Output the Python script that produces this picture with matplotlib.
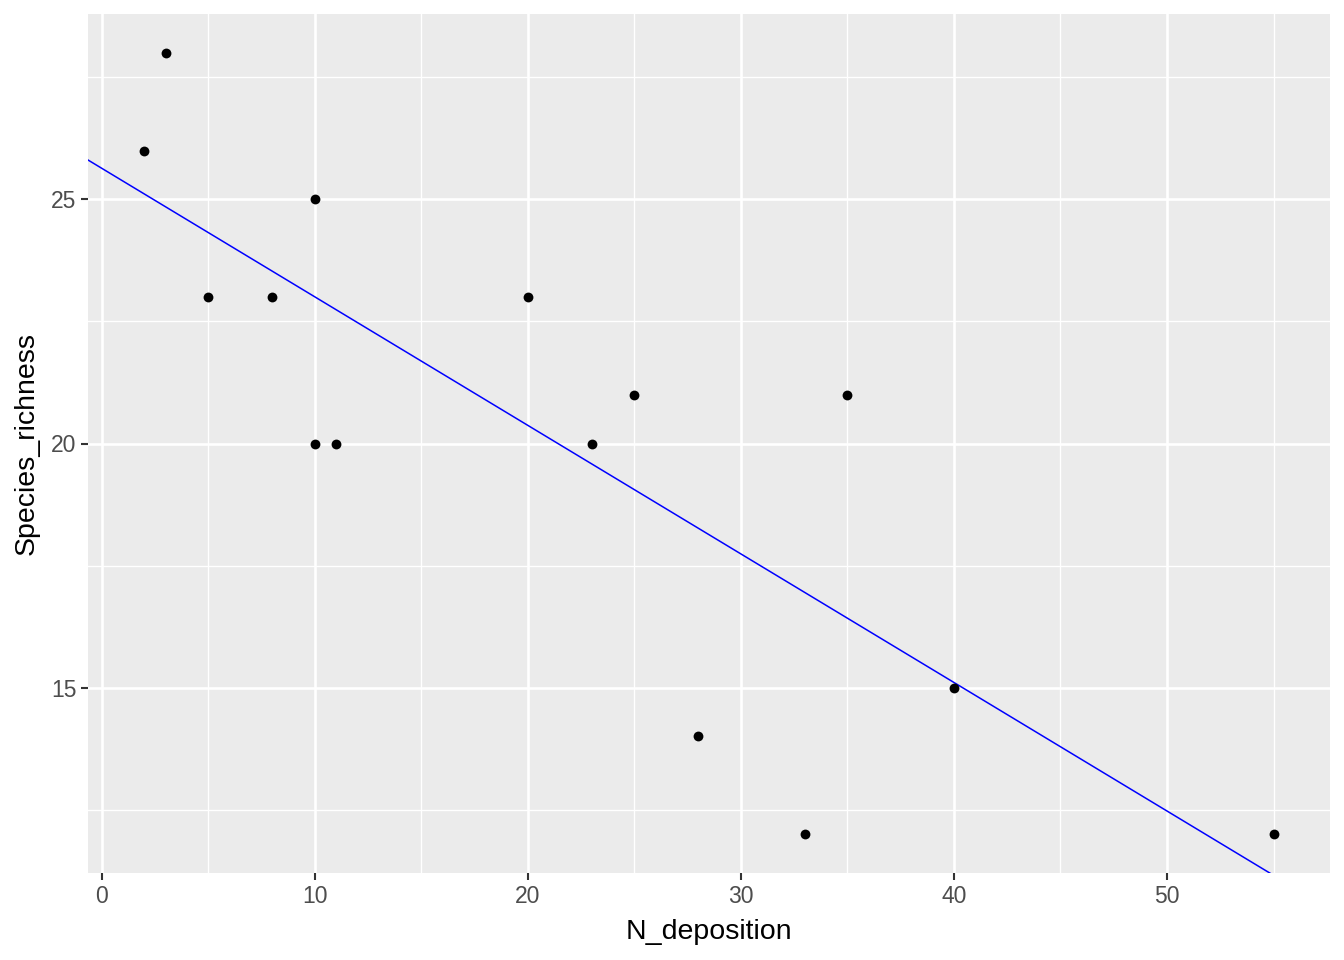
import numpy as np
import matplotlib.pyplot as plt

# data
n_deposition = [2, 3, 5, 8, 10, 10, 11, 20, 23, 25, 28, 33, 35, 40, 55]
species_richness = [26, 28, 23, 23, 25, 20, 20, 23, 20, 21, 14, 12, 21, 15, 12]
line_intercept = 25.64
line_slope = -0.2634

x_major = [0, 10, 20, 30, 40, 50]
y_major = [15, 20, 25]

plt.rcParams['font.family'] = ['Liberation Sans', 'DejaVu Sans']

fig = plt.figure(figsize=(13.44, 9.6), dpi=100)
ax = fig.add_axes([87.8 / 1344, 1 - 873 / 960, (1330 - 87.8) / 1344, (873 - 14) / 960])
ax.set_facecolor('#EBEBEB')

ax.set_xlim(-0.65, 57.65)
ax.set_ylim(11.2, 28.8)

ax.set_xticks(x_major)
ax.set_yticks(y_major)
ax.set_xticks(np.arange(5, 60, 10), minor=True)
ax.set_yticks([12.5, 17.5, 22.5, 27.5], minor=True)
ax.grid(True, which='major', color='white', linewidth=1.9, zorder=0)
ax.grid(True, which='minor', color='white', linewidth=0.95, zorder=0)
ax.set_axisbelow(True)

for s in ax.spines.values():
    s.set_visible(False)

ax.tick_params(which='major', length=5.3, width=1.5, color='#333333',
               labelsize=16.5, labelcolor='#4D4D4D', pad=3)
ax.tick_params(which='minor', length=0)

ax.scatter(n_deposition, species_richness, s=50, color='black', zorder=3, linewidths=0)

xx = np.array(ax.get_xlim())
ax.plot(xx, line_intercept + line_slope * xx, color='blue', linewidth=1.1, zorder=2)
ax.set_xlim(-0.65, 57.65)

ax.set_xlabel('N_deposition', fontsize=20.5, color='black', labelpad=8)
ax.set_ylabel('Species_richness', fontsize=20.5, color='black', labelpad=8)

plt.savefig('out.png', dpi=100)
